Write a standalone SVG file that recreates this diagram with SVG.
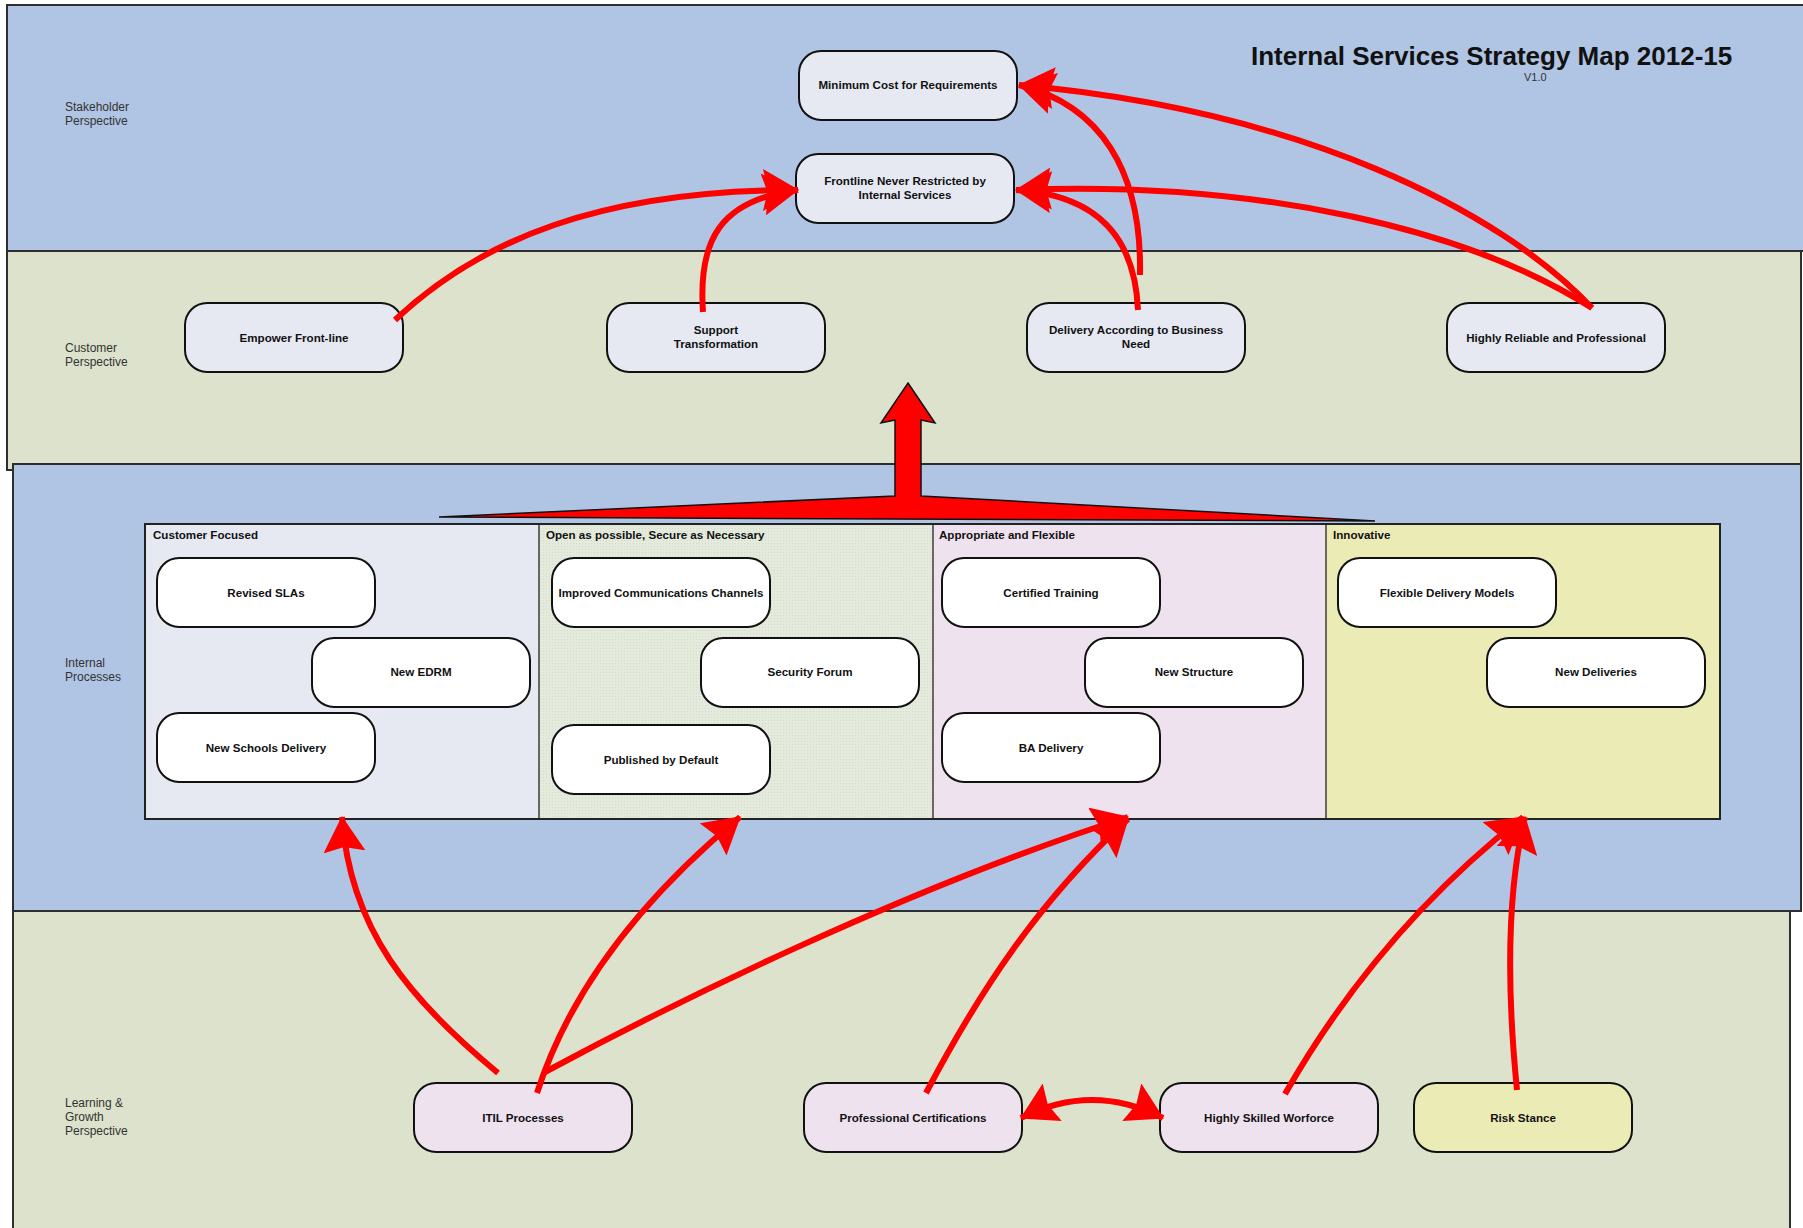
<svg xmlns="http://www.w3.org/2000/svg" width="1803" height="1228" viewBox="0 0 1803 1228">
<style>
.band{stroke:#2e2e2e;stroke-width:2}
.blue{fill:#b0c4e3}
.green{fill:#dce2cb}
.node{stroke:#111;stroke-width:2}
.top{fill:#e6e9f1}
.white{fill:#ffffff}
.pink{fill:#efe2ef}
.yellow{fill:#ebebb6}
.lbl{font-family:"Liberation Sans",Arial,sans-serif;font-weight:bold;font-size:11.6px;fill:#111;text-anchor:middle}
.hdr{font-family:"Liberation Sans",Arial,sans-serif;font-weight:bold;font-size:11.6px;fill:#111}
.side{font-family:"Liberation Sans",Arial,sans-serif;font-size:12px;fill:#333}
.con{fill:none;stroke:#ff0000;stroke-width:6}
</style>
<defs>
<pattern id="dots" width="3" height="3" patternUnits="userSpaceOnUse">
<rect width="3" height="3" fill="#e4eadc"/>
<rect width="1" height="1" fill="#d3dacb"/>
</pattern>
<marker id="ah" viewBox="0 0 36 42" markerWidth="36" markerHeight="42" refX="35" refY="21" orient="auto" markerUnits="userSpaceOnUse">
<path d="M0,0 L36,21 L0,42 L5,21 Z" fill="#ff0000"/>
</marker>
<marker id="ahs" viewBox="0 0 36 42" markerWidth="36" markerHeight="42" refX="35" refY="21" orient="auto-start-reverse" markerUnits="userSpaceOnUse">
<path d="M0,0 L36,21 L0,42 L5,21 Z" fill="#ff0000"/>
</marker>
</defs>

<g id="bands">
<rect class="band blue" x="7" y="5" width="1800" height="246"/>
<rect class="band green" x="7" y="251" width="1794" height="219"/>
<rect class="band green" x="13" y="911" width="1777" height="322"/>
<rect class="band blue" x="13" y="464" width="1788" height="447"/>
</g>

<g id="titles">
<text x="1251" y="65" font-family="'Liberation Sans',Arial,sans-serif" font-weight="bold" font-size="26" fill="#111">Internal Services Strategy Map 2012-15</text>
<text x="1524" y="81" font-family="'Liberation Sans',Arial,sans-serif" font-size="11" fill="#333">V1.0</text>
<text class="side" x="65" y="111">Stakeholder<tspan x="65" dy="14">Perspective</tspan></text>
<text class="side" x="65" y="352">Customer<tspan x="65" dy="14">Perspective</tspan></text>
<text class="side" x="65" y="667">Internal<tspan x="65" dy="14">Processes</tspan></text>
<text class="side" x="65" y="1107">Learning &amp;<tspan x="65" dy="14">Growth</tspan><tspan x="65" dy="14">Perspective</tspan></text>
</g>

<g id="big-arrow">
<polygon points="908,383 935,423 921,420 921,496 1375,521 439,517 895,496 895,420 881,423" fill="#ff0000" stroke="#111" stroke-width="1.5" stroke-linejoin="miter"/>
</g>

<g id="sections">
<rect x="145" y="524" width="394" height="295" fill="#e6e9f1"/>
<rect x="539" y="524" width="394" height="295" fill="url(#dots)"/>
<rect x="933" y="524" width="393" height="295" fill="#efe2ef"/>
<rect x="1326" y="524" width="394" height="295" fill="#ebebb6"/>
<rect x="145" y="524" width="1575" height="295" fill="none" stroke="#222" stroke-width="2"/>
<line x1="539" y1="524" x2="539" y2="819" stroke="#222" stroke-width="1.3"/>
<line x1="933" y1="524" x2="933" y2="819" stroke="#222" stroke-width="1.3"/>
<line x1="1326" y1="524" x2="1326" y2="819" stroke="#222" stroke-width="1.3"/>
<text class="hdr" x="153" y="539">Customer Focused</text>
<text class="hdr" x="546" y="539">Open as possible, Secure as Necessary</text>
<text class="hdr" x="939" y="539">Appropriate and Flexible</text>
<text class="hdr" x="1333" y="539">Innovative</text>
</g>

<g id="node-min-cost"><rect class="node top" x="799" y="51" width="218" height="69" rx="22"/><text class="lbl" x="908" y="89">Minimum Cost for Requirements</text></g>
<g id="node-frontline"><rect class="node top" x="796" y="154" width="218" height="69" rx="22"/><text class="lbl" x="905" y="185">Frontline Never Restricted by<tspan x="905" dy="14">Internal Services</tspan></text></g>

<g id="node-empower"><rect class="node top" x="185" y="303" width="218" height="69" rx="22"/><text class="lbl" x="294" y="342">Empower Front-line</text></g>
<g id="node-support"><rect class="node top" x="607" y="303" width="218" height="69" rx="22"/><text class="lbl" x="716" y="334">Support<tspan x="716" dy="14">Transformation</tspan></text></g>
<g id="node-delivery"><rect class="node top" x="1027" y="303" width="218" height="69" rx="22"/><text class="lbl" x="1136" y="334">Delivery According to Business<tspan x="1136" dy="14">Need</tspan></text></g>
<g id="node-reliable"><rect class="node top" x="1447" y="303" width="218" height="69" rx="22"/><text class="lbl" x="1556" y="342">Highly Reliable and Professional</text></g>

<g id="node-revised-slas"><rect class="node white" x="157" y="558" width="218" height="69" rx="22"/><text class="lbl" x="266" y="597">Revised SLAs</text></g>
<g id="node-new-edrm"><rect class="node white" x="312" y="638" width="218" height="69" rx="22"/><text class="lbl" x="421" y="676">New EDRM</text></g>
<g id="node-new-schools"><rect class="node white" x="157" y="713" width="218" height="69" rx="22"/><text class="lbl" x="266" y="752">New Schools Delivery</text></g>
<g id="node-improved-comms"><rect class="node white" x="552" y="558" width="218" height="69" rx="22"/><text class="lbl" x="661" y="597">Improved Communications Channels</text></g>
<g id="node-security-forum"><rect class="node white" x="701" y="638" width="218" height="69" rx="22"/><text class="lbl" x="810" y="676">Security Forum</text></g>
<g id="node-published"><rect class="node white" x="552" y="725" width="218" height="69" rx="22"/><text class="lbl" x="661" y="764">Published by Default</text></g>
<g id="node-certified-training"><rect class="node white" x="942" y="558" width="218" height="69" rx="22"/><text class="lbl" x="1051" y="597">Certified Training</text></g>
<g id="node-new-structure"><rect class="node white" x="1085" y="638" width="218" height="69" rx="22"/><text class="lbl" x="1194" y="676">New Structure</text></g>
<g id="node-ba-delivery"><rect class="node white" x="942" y="713" width="218" height="69" rx="22"/><text class="lbl" x="1051" y="752">BA Delivery</text></g>
<g id="node-flexible-delivery"><rect class="node white" x="1338" y="558" width="218" height="69" rx="22"/><text class="lbl" x="1447" y="597">Flexible Delivery Models</text></g>
<g id="node-new-deliveries"><rect class="node white" x="1487" y="638" width="218" height="69" rx="22"/><text class="lbl" x="1596" y="676">New Deliveries</text></g>

<g id="node-itil"><rect class="node pink" x="414" y="1083" width="218" height="69" rx="22"/><text class="lbl" x="523" y="1122">ITIL Processes</text></g>
<g id="node-prof-cert"><rect class="node pink" x="804" y="1083" width="218" height="69" rx="22"/><text class="lbl" x="913" y="1122">Professional Certifications</text></g>
<g id="node-skilled"><rect class="node pink" x="1160" y="1083" width="218" height="69" rx="22"/><text class="lbl" x="1269" y="1122">Highly Skilled Worforce</text></g>
<g id="node-risk"><rect class="node yellow" x="1414" y="1083" width="218" height="69" rx="22"/><text class="lbl" x="1523" y="1122">Risk Stance</text></g>

<g id="connectors">
<path class="con" marker-end="url(#ah)" d="M395,320 C480,240 600,190 798,190"/>
<path class="con" marker-end="url(#ah)" d="M703,312 C698,240 720,200 798,190"/>
<path class="con" marker-end="url(#ah)" d="M1138,310 C1135,240 1100,195 1016,190"/>
<path class="con" marker-end="url(#ah)" d="M1140,275 C1142,170 1100,105 1019,85"/>
<path class="con" marker-end="url(#ah)" d="M1592,308 C1470,230 1260,180 1016,190"/>
<path class="con" marker-end="url(#ah)" d="M1592,308 C1500,210 1300,110 1019,85"/>
<path class="con" marker-end="url(#ah)" d="M498,1073 C410,1000 350,930 342,817"/>
<path class="con" marker-end="url(#ah)" d="M537,1093 C570,990 640,900 740,817"/>
<path class="con" marker-end="url(#ah)" d="M545,1072 C660,1010 900,890 1128,817"/>
<path class="con" marker-end="url(#ah)" d="M926,1093 C980,990 1040,900 1128,819"/>
<path class="con" marker-end="url(#ah)" d="M1285,1094 C1350,980 1430,890 1523,817"/>
<path class="con" marker-end="url(#ah)" d="M1517,1090 C1508,1000 1505,900 1525,817"/>
<path class="con" marker-start="url(#ahs)" marker-end="url(#ah)" d="M1021,1118 Q1092,1082 1163,1118"/>
</g>
</svg>
